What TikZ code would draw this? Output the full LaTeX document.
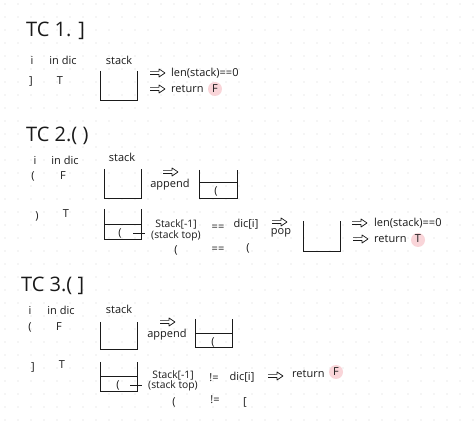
\documentclass[tikz,border=0pt]{standalone}
\usepackage{fontspec}
\setmainfont{Open Sans}
\newfontfamily\hw{Open Sans}
\definecolor{dotc}{HTML}{D4D4D4}
\definecolor{ink}{HTML}{1A1A1A}
\definecolor{pinkhl}{HTML}{F9D5D9}
\tikzset{
  txt/.style={font=\hw\fontsize{11}{13}\selectfont, inner sep=0pt, text=ink},
  txtn/.style={font=\hw\fontsize{10.3}{12}\selectfont, inner sep=0pt, text=ink},
  txtw/.style={txt, anchor=west},
  ttl/.style={font=\hw\fontsize{20}{24}\selectfont, inner sep=0pt, anchor=west, text=ink},
  cupline/.style={line width=0.8pt, draw=ink},
  hl/.style={circle, fill=pinkhl, inner sep=0pt, minimum size=14pt},
  harrow/.pic={
    \draw[line width=0.7pt, draw=ink, line join=round]
      (0,-1.6) -- (9,-1.6) -- (9,-4) -- (15,0) -- (9,4) -- (9,1.6) -- (0,1.6);
  }
}
\begin{document}
\begin{tikzpicture}[x=1pt,y=-1pt]
\useasboundingbox (0,0) rectangle (474,427);
\fill[white] (0,0) rectangle (474,427);
\foreach \x in {5,18,...,474}{
  \foreach \y in {4,17,...,427}{
    \fill[dotc] (\x,\y) circle (0.55pt);
  }
}
% ---------------- TC 1 ----------------
\node[ttl] (t1) at (26,31) {TC 1. ]};
\node[txt] (i1) at (32,60) {i};
\node[txt] (d1) at (63,60) {in dic};
\node[txt] (s1) at (119,60) {stack};
\node[txt] (c1) at (31,81) {]};
\node[txt] (v1) at (60,81) {T};
\draw[cupline] (100,71) -- (100,100) -- (137,100) -- (137,71);
\pic (a1) at (150,73) {harrow};
\node[txtw] (l1) at (171,73) {len(stack)==0};
\pic (a2) at (150,89) {harrow};
\node[txtw] (r1) at (171,89) {return};
\node[hl] (h1) at (215,89) {};
\node[txt] (f1) at (215,89) {F};
% ---------------- TC 2 ----------------
\node[ttl] (t2) at (26,136) {TC 2.( )};
\node[txt] (i2) at (35,160) {i};
\node[txt] (d2) at (65,160) {in dic};
\node[txt] (s2) at (122,157) {stack};
\node[txt] (c2) at (33,176) {(};
\node[txt] (v2) at (63,176) {F};
\draw[cupline] (104,169) -- (104,198) -- (141,198) -- (141,169);
\pic (a3) at (163,172) {harrow};
\node[txt] (ap2) at (170,185) {append};
\draw[cupline] (199,170) -- (199,198) -- (237,198) -- (237,170);
\draw[cupline] (199,182) -- (237,182);
\node[txt] (e2) at (216,191) {(};
\node[txt] (c3) at (37,216) {)};
\node[txt] (v3) at (66,214) {T};
\draw[cupline] (104,209) -- (104,239) -- (141,239) -- (141,209);
\draw[cupline] (104,224) -- (141,224);
\node[txt] (e3) at (120,233) {(};
\coordinate (k1s) at (133,233); \coordinate (k1e) at (145,233);
\draw[cupline] (k1s) -- (k1e);
\node[txtn] (st2) at (176,224) {Stack[-1]};
\node[txtn] (sp2) at (176,236) {(stack top)};
\node[txt] (eq2) at (218,228) {==};
\node[txt] (dc2) at (246,224) {dic[i]};
\node[txt] (b2a) at (176,250) {(};
\node[txt] (eq2b) at (218,250) {==};
\node[txt] (b2b) at (248,248) {(};
\pic (a4) at (272,222) {harrow};
\node[txt] (pop) at (281,233) {pop};
\draw[cupline] (303,221) -- (303,251) -- (340,251) -- (340,221);
\pic (a5) at (352,223) {harrow};
\node[txtw] (l2) at (374,223) {len(stack)==0};
\pic (a6) at (353,239) {harrow};
\node[txtw] (r2) at (374,239) {return};
\node[hl] (h2) at (418,240) {};
\node[txt] (f2) at (418,239) {T};
% ---------------- TC 3 ----------------
\node[ttl] (t3) at (21,286) {TC 3.( ]};
\node[txt] (i3) at (30,310) {i};
\node[txt] (d3) at (61,310) {in dic};
\node[txt] (s3) at (119,309) {stack};
\node[txt] (c4) at (30,327) {(};
\node[txt] (v4) at (59,327) {F};
\draw[cupline] (100,322) -- (100,349) -- (137,349) -- (137,322);
\pic (a7) at (160,322) {harrow};
\node[txt] (ap3) at (167,335) {append};
\draw[cupline] (195,319) -- (195,347) -- (232,347) -- (232,319);
\draw[cupline] (195,333) -- (232,333);
\node[txt] (e4) at (213,342) {(};
\node[txt] (c5) at (33,367) {]};
\node[txt] (v5) at (62,365) {T};
\draw[cupline] (100,362) -- (100,391) -- (137,391) -- (137,362);
\draw[cupline] (100,376) -- (137,376);
\node[txt] (e5) at (118,385) {(};
\coordinate (k2s) at (130,385); \coordinate (k2e) at (142,385);
\draw[cupline] (k2s) -- (k2e);
\node[txtn] (st3) at (173,375) {Stack[-1]};
\node[txtn] (sp3) at (173,386) {(stack top)};
\node[txt] (ne3) at (214,378) {!=};
\node[txt] (dc3) at (242,377) {dic[i]};
\node[txt] (b3a) at (174,402) {(};
\node[txt] (ne3b) at (215,400) {!=};
\node[txt] (b3b) at (245,402) {[};
\pic (a8) at (268,376) {harrow};
\node[txtw] (r3) at (292,374) {return};
\node[hl] (h3) at (336,372) {};
\node[txt] (f3) at (336,372) {F};
\end{tikzpicture}
\end{document}
